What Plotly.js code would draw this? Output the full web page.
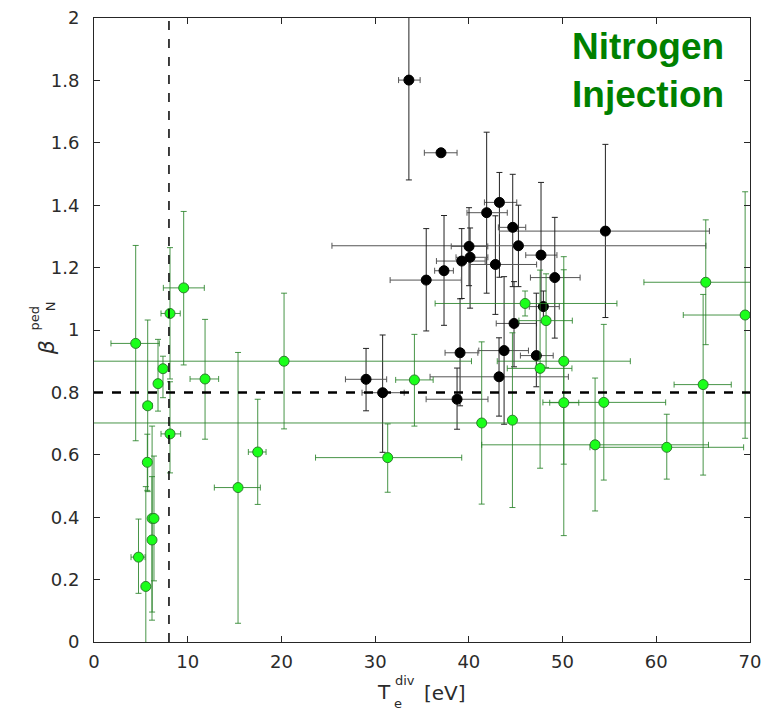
<!DOCTYPE html>
<html>
<head>
<meta charset="utf-8">
<script src="https://cdn.plot.ly/plotly-3.0.1.min.js"></script>
<style>
html,body{margin:0;padding:0;background:#fff;}
#chart{width:765px;height:711px;}
</style>
</head>
<body>
<div id="chart"></div>
<script>
// ---- Nitrogen injection (green) ----
const greenT      = [4.45, 9.57, 8.11, 7.36, 6.83, 5.73, 5.69, 6.2, 6.4, 6.19, 4.75, 5.53, 8.11, 11.85, 20.28, 17.47, 15.37, 34.19, 31.34, 41.37, 44.65, 46.0, 48.24, 47.6, 50.13, 50.13, 54.4, 53.47, 61.12, 65.0, 65.28, 69.48];
const greenBeta   = [0.957, 1.135, 1.053, 0.876, 0.828, 0.757, 0.576, 0.396, 0.396, 0.327, 0.272, 0.178, 0.667, 0.843, 0.9, 0.609, 0.495, 0.84, 0.591, 0.702, 0.711, 1.085, 1.03, 0.877, 0.9, 0.767, 0.768, 0.632, 0.624, 0.825, 1.153, 1.048];
const greenTErrMinus = [2.64, 2.17, 0.96, 0.4, 0.35, 0.47, 0.3, 0.2, 0.2, 0.2, 0.8, 0.2, 0.96, 1.6, 21, 1.0, 2.53, 2.0, 7.7, 45, 0.3, 9.6, 2.9, 3.5, 7.1, 1.5, 6.5, 12.1, 8.2, 3.1, 6.6, 6.6];
const greenTErrPlus  = [2.52, 2.2, 1.09, 0.4, 0.35, 0.49, 0.3, 0.2, 0.2, 0.2, 0.7, 0.2, 1.14, 1.45, 20.0, 0.89, 2.38, 2.0, 7.9, 35, 0.3, 9.8, 2.8, 3.4, 7.1, 1.6, 6.6, 12.1, 8.2, 3.0, 6.6, 6.6];
const greenBErrMinus = [0.312, 0.247, 0.21, 0.093, 0.088, 0.275, 0.09, 0.3, 0.2, 0.257, 0.116, 0.3, 0.125, 0.193, 0.217, 0.168, 0.435, 0.148, 0.111, 0.26, 0.28, 0.04, 0.15, 0.32, 0.33, 0.426, 0.249, 0.212, 0.102, 0.29, 0.2, 0.395];
const greenBErrPlus  = [0.314, 0.245, 0.211, 0.04, 0.142, 0.275, 0.09, 0.296, 0.2, 0.203, 0.122, 0.32, 0.167, 0.191, 0.218, 0.169, 0.433, 0.146, 0.108, 0.26, 0.28, 0.04, 0.15, 0.315, 0.335, 0.426, 0.25, 0.214, 0.106, 0.289, 0.2, 0.395];

// ---- reference discharges (black) ----
const blackT      = [33.6, 37.03, 43.26, 41.9, 44.68, 54.57, 40.02, 45.29, 40.13, 39.24, 37.35, 35.45, 42.83, 47.7, 49.17, 47.95, 44.82, 39.06, 43.76, 47.2, 43.22, 38.74, 30.8, 29.03];
const blackBeta   = [1.801, 1.568, 1.409, 1.376, 1.329, 1.317, 1.268, 1.27, 1.233, 1.221, 1.19, 1.16, 1.21, 1.24, 1.168, 1.075, 1.021, 0.927, 0.934, 0.918, 0.85, 0.778, 0.799, 0.842];
const blackTErrMinus = [1.1, 1.78, 1.6, 2.1, 1.53, 11.3, 1.9, 19.9, 1.5, 2.7, 1.0, 3.85, 2.7, 1.63, 2.6, 1.5, 1.9, 1.6, 2.7, 1.7, 7.36, 3.3, 2.2, 2.2];
const blackTErrPlus  = [1.2, 1.71, 1.85, 2.2, 1.39, 11.1, 2.0, 20.0, 1.9, 2.5, 1.0, 3.75, 4.4, 1.7, 2.7, 1.7, 2.4, 1.9, 2.6, 1.8, 7.4, 3.3, 2.3, 2.2];
const blackBErrMinus = [0.32, 0.0, 0.24, 0.258, 0.19, 0.277, 0.126, 0.131, 0.163, 0.12, 0.175, 0.163, 0.16, 0.162, 0.194, 0.05, 0.139, 0.17, 0.236, 0.1, 0.126, 0.096, 0.191, 0.101];
const blackBErrPlus  = [0.32, 0.0, 0.096, 0.258, 0.17, 0.278, 0.124, 0.13, 0.094, 0.104, 0.177, 0.165, 0.156, 0.233, 0.193, 0.05, 0.134, 0.173, 0.237, 0.2, 0.125, 0.1, 0.185, 0.099];

// reference lines
const refT = 8;
const refBeta = 0.8;

const xTicks = [0, 10, 20, 30, 40, 50, 60, 70];
const yTicks = [0, 0.2, 0.4, 0.6, 0.8, 1, 1.2, 1.4, 1.6, 1.8, 2];

const tickFont = {family: 'DejaVu Sans', size: 18, color: '#2b2b2b'};
const labFont = {family: 'DejaVu Sans', size: 20, color: '#2b2b2b'};
const smallFont = {family: 'DejaVu Sans', size: 13, color: '#2b2b2b'};

const blackTrace = {
  x: blackT, y: blackBeta, type: 'scatter', mode: 'markers',
  marker: {color: '#000000', size: 10, line: {color: '#000000', width: 1}},
  error_x: {type: 'data', symmetric: false, array: blackTErrPlus, arrayminus: blackTErrMinus, color: '#555555', thickness: 1, width: 3},
  error_y: {type: 'data', symmetric: false, array: blackBErrPlus, arrayminus: blackBErrMinus, color: '#222222', thickness: 1, width: 3},
  showlegend: false, hoverinfo: 'x+y'
};
const greenTrace = {
  x: greenT, y: greenBeta, type: 'scatter', mode: 'markers',
  marker: {color: '#1aff1a', size: 10, line: {color: '#2e7d2e', width: 1}},
  error_x: {type: 'data', symmetric: false, array: greenTErrPlus, arrayminus: greenTErrMinus, color: 'rgba(40,130,40,0.85)', thickness: 1, width: 3},
  error_y: {type: 'data', symmetric: false, array: greenBErrPlus, arrayminus: greenBErrMinus, color: 'rgba(40,130,40,0.85)', thickness: 1, width: 3},
  showlegend: false, hoverinfo: 'x+y'
};

const layout = {
  width: 765, height: 711,
  margin: {l: 94, r: 15, t: 18, b: 69},
  paper_bgcolor: '#ffffff', plot_bgcolor: '#ffffff',
  xaxis: {
    range: [0, 70], tickvals: xTicks, ticktext: xTicks.map(String),
    ticks: 'inside', ticklen: 6, tickcolor: '#262626', tickwidth: 1,
    showline: true, linecolor: '#262626', linewidth: 1, mirror: 'ticks',
    showgrid: false, zeroline: false, tickfont: tickFont, ticklabelstandoff: 3
  },
  yaxis: {
    range: [0, 2], tickvals: yTicks, ticktext: yTicks.map(String),
    ticks: 'inside', ticklen: 6, tickcolor: '#262626', tickwidth: 1,
    showline: true, linecolor: '#262626', linewidth: 1, mirror: 'ticks',
    showgrid: false, zeroline: false, tickfont: tickFont, ticklabelstandoff: 10
  },
  shapes: [
    {type: 'line', xref: 'x', yref: 'paper', x0: refT, x1: refT, y0: 0, y1: 1, line: {color: '#000', width: 1.5, dash: 'dash'}},
    {type: 'line', xref: 'paper', yref: 'y', x0: 0, x1: 1, y0: refBeta, y1: refBeta, line: {color: '#000', width: 2.5, dash: 'dash'}}
  ],
  annotations: [
    {text: '<b>Nitrogen<br>Injection</b>', xref: 'paper', yref: 'paper', x: 0.845, y: 0.916, xanchor: 'center', yanchor: 'middle', showarrow: false, align: 'center',
     font: {family: 'Liberation Sans', size: 37, color: '#008000'}},
    {text: 'T', xref: 'paper', yref: 'paper', x: 0.442, y: -0.080, showarrow: false, xanchor: 'center', yanchor: 'middle', font: labFont},
    {text: 'div', xref: 'paper', yref: 'paper', x: 0.474, y: -0.061, showarrow: false, xanchor: 'center', yanchor: 'middle', font: smallFont},
    {text: 'e', xref: 'paper', yref: 'paper', x: 0.463, y: -0.099, showarrow: false, xanchor: 'center', yanchor: 'middle', font: smallFont},
    {text: '[eV]', xref: 'paper', yref: 'paper', x: 0.535, y: -0.082, showarrow: false, xanchor: 'center', yanchor: 'middle', font: labFont},
    {text: '<i>β</i>', xref: 'paper', yref: 'paper', x: -0.073, y: 0.471, showarrow: false, textangle: -90, xanchor: 'center', yanchor: 'middle', font: {family: 'DejaVu Sans', size: 22, color: '#2b2b2b'}},
    {text: 'ped', xref: 'paper', yref: 'paper', x: -0.091, y: 0.519, showarrow: false, textangle: -90, xanchor: 'center', yanchor: 'middle', font: smallFont},
    {text: 'N', xref: 'paper', yref: 'paper', x: -0.067, y: 0.538, showarrow: false, textangle: -90, xanchor: 'center', yanchor: 'middle', font: smallFont}
  ]
};

Plotly.newPlot('chart', [blackTrace, greenTrace], layout, {displayModeBar: false, staticPlot: true});
</script>
</body>
</html>
